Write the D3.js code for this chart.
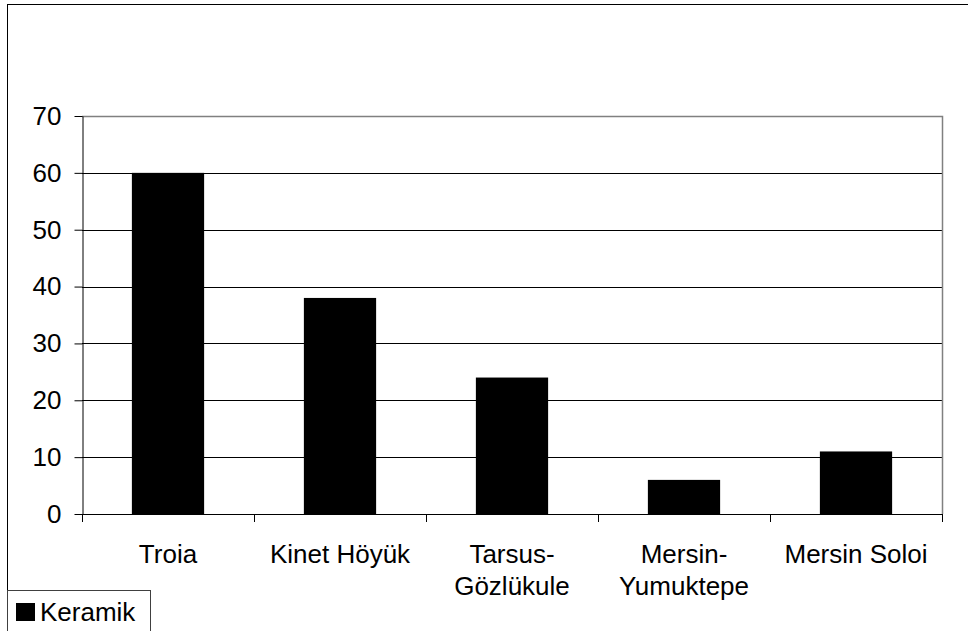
<!DOCTYPE html>
<html>
<head>
  <meta charset="utf-8">
  <title>Keramik</title>
  <style>
    body { margin: 0; background: #fff; }
    svg { display: block; font-family: "Liberation Sans", Arial, sans-serif; }
  </style>
</head>
<body>
  <script src="https://d3js.org/d3.v7.min.js"></script>
  <script>
    // data
    var categories = ["Troia", "Kinet Höyük", "Tarsus-Gözlükule", "Mersin-Yumuktepe", "Mersin Soloi"]
    var labelLines = [["Troia"], ["Kinet Höyük"], ["Tarsus-", "Gözlükule"], ["Mersin-", "Yumuktepe"], ["Mersin Soloi"]]
    var keramik = [60, 38, 24, 6, 11]
    var yTicks = [0, 10, 20, 30, 40, 50, 60, 70]
    var seriesName = "Keramik"

    var width = 968, height = 631
    var plot = { left: 82, top: 116, right: 942, bottom: 514 }
    var fontSize = 26

    var svg = d3.select("body").append("svg")
      .attr("width", width)
      .attr("height", height)

    // chart border (runs off the right and bottom edges)
    svg.append("rect")
      .attr("x", 7.5).attr("y", 4.5)
      .attr("width", width + 20).attr("height", height + 20)
      .attr("fill", "#fff")
      .attr("stroke", "#000")
      .attr("stroke-width", 1)

    var x = d3.scaleBand()
      .domain(categories)
      .range([plot.left, plot.right])
      .paddingInner(0.58)
      .paddingOuter(0.29)

    var y = d3.scaleLinear()
      .domain([0, 70])
      .range([plot.bottom, plot.top])

    // gridlines
    svg.append("g")
      .selectAll("line")
      .data(yTicks.filter(d => d > 0 && d < 70))
      .enter().append("line")
      .attr("x1", plot.left).attr("x2", plot.right)
      .attr("y1", d => Math.round(y(d)) + 0.5)
      .attr("y2", d => Math.round(y(d)) + 0.5)
      .attr("stroke", "#000")
      .attr("stroke-width", 1)

    // plot area frame top + right (gray)
    svg.append("path")
      .attr("d", `M${plot.left},${plot.top + 0.5}H${plot.right + 0.5}V${plot.bottom}`)
      .attr("fill", "none")
      .attr("stroke", "#808080")
      .attr("stroke-width", 1.5)

    // bars
    svg.append("g")
      .selectAll("rect")
      .data(keramik)
      .enter().append("rect")
      .attr("x", (d, i) => x(categories[i]))
      .attr("y", d => y(d))
      .attr("width", x.bandwidth())
      .attr("height", d => y(0) - y(d))
      .attr("fill", "#000")

    // y axis
    var yAxis = svg.append("g")
      .attr("transform", `translate(${plot.left + 0.5},0)`)
      .call(d3.axisLeft(y).tickValues(yTicks).tickSize(8).tickPadding(13).tickSizeOuter(0))
    yAxis.select(".domain").attr("stroke", "#000")
    yAxis.selectAll(".tick line").attr("stroke", "#000")
    yAxis.selectAll(".tick text")
      .attr("font-size", fontSize)
      .attr("font-family", "Liberation Sans, Arial, sans-serif")
      .attr("fill", "#000")

    // x axis line + ticks at category boundaries
    var step = x.step()
    var bounds = d3.range(categories.length + 1).map(i => plot.left + i * step)
    svg.append("line")
      .attr("x1", plot.left).attr("x2", plot.right + 0.5)
      .attr("y1", plot.bottom + 0.5).attr("y2", plot.bottom + 0.5)
      .attr("stroke", "#000")
    svg.append("g")
      .selectAll("line")
      .data(bounds)
      .enter().append("line")
      .attr("x1", d => Math.round(d) + 0.5).attr("x2", d => Math.round(d) + 0.5)
      .attr("y1", plot.bottom).attr("y2", plot.bottom + 8)
      .attr("stroke", "#000")

    // category labels
    var labels = svg.append("g")
      .selectAll("text")
      .data(categories)
      .enter().append("text")
      .attr("text-anchor", "middle")
      .attr("font-size", fontSize)
      .attr("fill", "#000")
    labels.selectAll("tspan")
      .data((d, i) => labelLines[i].map(t => ({ t: t, c: d })))
      .enter().append("tspan")
      .attr("x", d => x(d.c) + x.bandwidth() / 2)
      .attr("y", (d, j) => 563 + j * 32)
      .text(d => d.t)

    // legend
    svg.append("rect")
      .attr("x", 7.5).attr("y", 590.5)
      .attr("width", 143).attr("height", 60)
      .attr("fill", "#fff")
      .attr("stroke", "#404040")
    svg.append("rect")
      .attr("x", 16).attr("y", 603)
      .attr("width", 19).attr("height", 18)
      .attr("fill", "#000")
    svg.append("text")
      .attr("x", 40).attr("y", 621)
      .attr("font-size", fontSize)
      .attr("fill", "#000")
      .text(seriesName)
  </script>
</body>
</html>
